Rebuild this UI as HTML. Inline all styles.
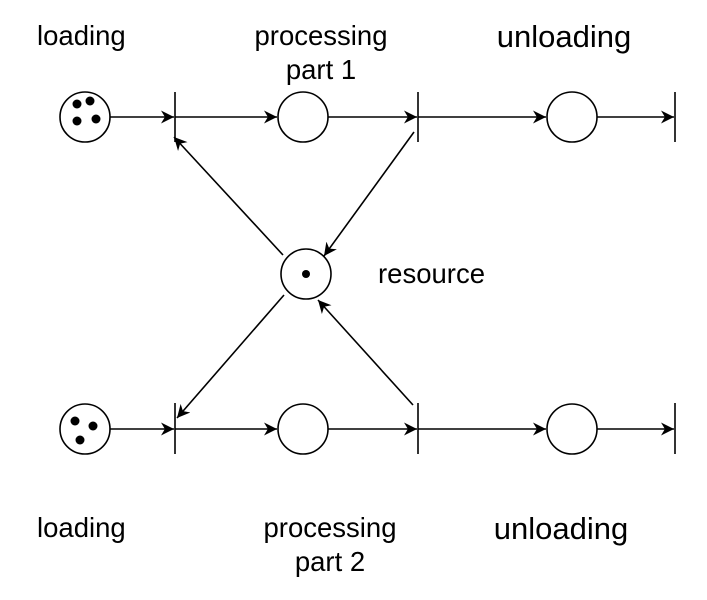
<!DOCTYPE html>
<html><head><style>body{margin:0;background:#fff}</style></head><body>
<svg width="707" height="595" xmlns="http://www.w3.org/2000/svg" font-family="Liberation Sans, sans-serif">
<defs><marker id="a" viewBox="0 0 10 10" refX="10" refY="5" markerWidth="13" markerHeight="13" markerUnits="userSpaceOnUse" orient="auto"><path d="M0,0 L10,5 L0,10 L3,5 z" fill="#000"/></marker></defs>
<g stroke="#000" stroke-width="1.6" fill="none">
<circle cx="85" cy="117" r="25"/><circle cx="303" cy="117" r="25"/><circle cx="572" cy="117" r="25"/>
<circle cx="85" cy="429" r="25"/><circle cx="303" cy="429" r="25"/><circle cx="572" cy="429" r="25"/>
<circle cx="306" cy="274" r="25"/>
<line x1="175" y1="92" x2="175" y2="142"/><line x1="418" y1="92" x2="418" y2="142"/><line x1="675" y1="92" x2="675" y2="142"/>
<line x1="175" y1="403" x2="175" y2="454"/><line x1="418" y1="403" x2="418" y2="454"/><line x1="675" y1="403" x2="675" y2="454"/>
<g marker-end="url(#a)">
<line x1="110" y1="117" x2="174" y2="117"/><line x1="175" y1="117" x2="277" y2="117"/><line x1="328" y1="117" x2="417" y2="117"/><line x1="418" y1="117" x2="546" y2="117"/><line x1="597" y1="117" x2="674" y2="117"/>
<line x1="110" y1="429" x2="174" y2="429"/><line x1="175" y1="429" x2="277" y2="429"/><line x1="328" y1="429" x2="417" y2="429"/><line x1="418" y1="429" x2="546" y2="429"/><line x1="597" y1="429" x2="674" y2="429"/>
<line x1="283" y1="255" x2="174" y2="137"/><line x1="414" y1="132" x2="324" y2="256"/>
<line x1="284" y1="295" x2="177" y2="418"/><line x1="413" y1="405" x2="318" y2="300"/>
</g></g>
<g fill="#000">
<circle cx="77" cy="104" r="4.5"/><circle cx="90" cy="101" r="4.5"/><circle cx="77" cy="121" r="4.5"/><circle cx="96" cy="119" r="4.5"/>
<circle cx="75" cy="421" r="4.5"/><circle cx="93" cy="426" r="4.5"/><circle cx="80" cy="440" r="4.5"/>
<circle cx="306" cy="274" r="4"/>
</g>
<g font-size="27.5" fill="#000">
<text x="37" y="45">loading</text>
<text x="321" y="45" text-anchor="middle">processing</text>
<text x="321" y="79" text-anchor="middle">part 1</text>
<text x="564" y="47" text-anchor="middle" font-size="31">unloading</text>
<text x="378" y="283">resource</text>
<text x="37" y="537">loading</text>
<text x="330" y="537" text-anchor="middle">processing</text>
<text x="330" y="571" text-anchor="middle">part 2</text>
<text x="561" y="539" text-anchor="middle" font-size="31">unloading</text>
</g>
</svg>
</body></html>
